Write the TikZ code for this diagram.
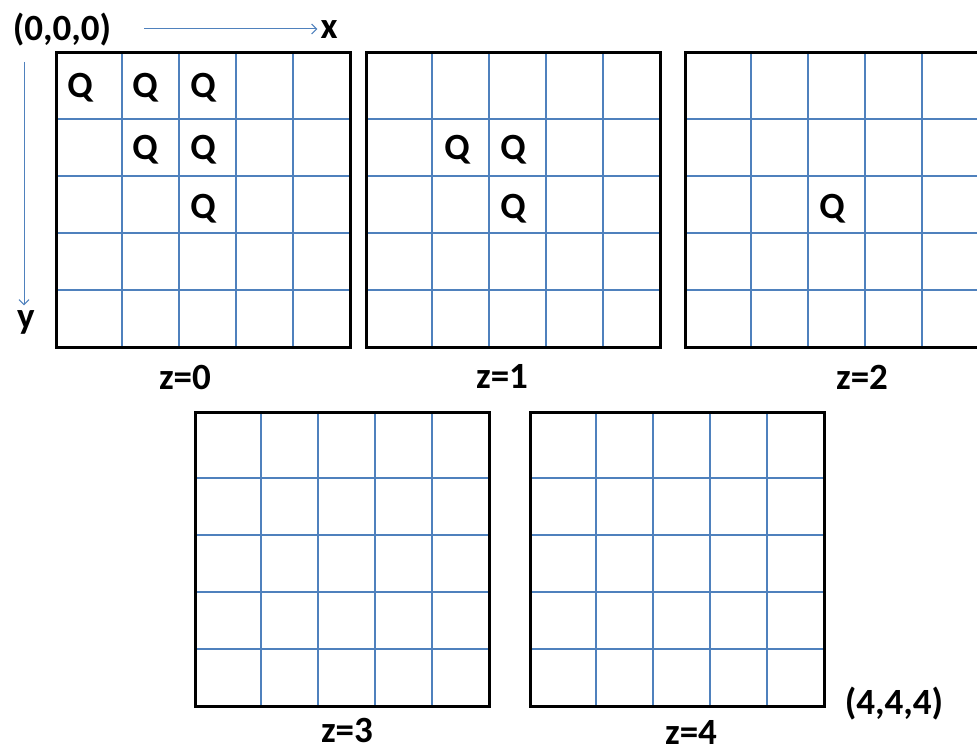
\documentclass[tikz,border=0pt]{standalone}
\usepackage{fontspec}
\setmainfont{Carlito}
\usepackage{tikz}
\usetikzlibrary{arrows.meta,calc,positioning}
\definecolor{cgrid}{RGB}{79,129,189}
\tikzset{
  frame/.style={rectangle,draw=black,line width=3pt,minimum width=294pt,
    minimum height=294pt,inner sep=0pt,outer sep=0pt,anchor=north west},
  cell/.style={draw=cgrid,line width=1.1pt},
  lab/.style={font=\fontsize{37}{42}\selectfont\bfseries,inner sep=0pt,
    text height=23pt,text depth=0pt},
  qmark/.style={lab},
  axis/.style={draw=cgrid,line width=1pt,
    -{Straight Barb[length=5pt,width=10pt]}}
}
% one z-layer: blue cell lines first, black frame on top
\newcommand{\zlayer}[3]{%
  \foreach \off in {66,123,180,237}{
    \draw[cell] ({#2+\off},#3) -- ++(0,294);
    \draw[cell] (#2,{#3+\off}) -- ++(294,0);
  }
  \node[frame] (#1) at (#2,#3) {};
}

\begin{document}
\begin{tikzpicture}[x=1pt,y=-1pt]
  \path[use as bounding box] (0,0) rectangle (977,749);
  \clip (0,0) rectangle (977,749);
  \zlayer{z0}{56}{53}
  \zlayer{z1}{366}{53}
  \zlayer{z2}{685}{53}
  \zlayer{z3}{195}{412}
  \zlayer{z4}{530}{412}
  \node[lab,below=19pt of z0,xshift=-18pt] (l0) {z=0};
  \node[lab,below=18pt of z1,xshift=-11pt] (l1) {z=1};
  \node[lab,below=19pt of z2,xshift=30pt] (l2) {z=2};
  \node[lab,below=13pt of z3,xshift=5pt] (l3) {z=3};
  \node[lab,below=15pt of z4,xshift=14pt] (l4) {z=4};
  \foreach \lay/\dx/\dy [count=\i] in {z0/24/33,z0/89/33,z0/147/33,
      z0/89/95,z0/147/95,z0/147/154,z1/91/95,z1/147/95,z1/147/154,
      z2/147/154}
    \node[qmark] (q\i) at ($(\lay.north west)+(\dx,\dy)$) {Q};
  \node[lab] (org) at (62,29) {(0,0,0)};
  \node[lab] (xlab) at (329,27) {x};
  \node[lab] (ylab) at (26,317) {y};
  \node[lab] (far) at (894,703) {(4,4,4)};
  \coordinate (ytop) at (24,62);
  \draw[axis,shorten <=33pt,shorten >=3pt] (org.east) -- (org.east -| xlab.west);
  \draw[axis] (ytop) -- (ytop |- ylab.north);
\end{tikzpicture}
\end{document}
